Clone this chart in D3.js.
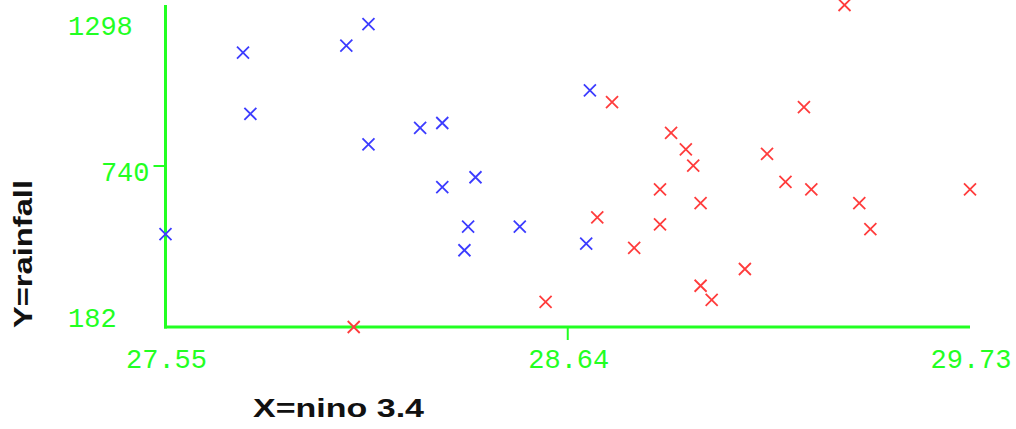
<!DOCTYPE html>
<html>
<head>
<meta charset="utf-8">
<script src="https://cdn.jsdelivr.net/npm/d3@7"></script>
<style>
  html, body { margin: 0; padding: 0; background: #ffffff; }
  svg { display: block; }
</style>
</head>
<body>
<div id="chart"></div>
<script>
// ---- data ----
const xTitle = "X=nino 3.4";
const yTitle = "Y=rainfall";
const xTickLabels = ["27.55", "28.64", "29.73"];
const yTickLabels = ["182", "740", "1298"];

const blueX = [27.76, 27.78, 28.04, 28.10, 28.10, 28.24, 28.30, 28.30, 28.39, 28.37, 28.36, 28.51, 27.55, 28.70, 28.69];
const blueY = [1133, 921, 1157, 1232, 815, 872, 889, 667, 701, 530, 448, 530, 504, 1002, 471];

const redX = [28.06, 29.39, 28.76, 29.28, 28.92, 28.96, 28.98, 29.18, 29.23, 29.30, 29.73, 28.89, 29.00, 29.43, 29.46, 28.72, 28.89, 28.82, 29.12, 29.00, 29.03, 28.58];
const redY = [182, 1298, 961, 944, 855, 798, 741, 782, 685, 659, 659, 659, 611, 611, 521, 562, 538, 456, 383, 325, 276, 269];

// ---- layout ----
const W = 1016, H = 429;
const green = "#22ff22";
const svg = d3.select("#chart").append("svg").attr("width", W).attr("height", H);

const xVals = xTickLabels.map(Number);
const yVals = yTickLabels.map(Number);
const x = d3.scaleLinear().domain(d3.extent(xVals)).range([165.5, 970]);
const y = d3.scaleLinear().domain(d3.extent(yVals)).range([327, 5]);
// label baseline placement scale (labels sit inside the axis extent)
const yLab = d3.scaleLinear().domain(d3.extent(yVals)).range([327, 35]);

// axis lines
svg.append("line").attr("x1", x.range()[0]).attr("x2", x.range()[0])
  .attr("y1", y.range()[1]).attr("y2", y.range()[0] + 1.5)
  .attr("stroke", green).attr("stroke-width", 3);
svg.append("line").attr("x1", x.range()[0] - 1.5).attr("x2", x.range()[1])
  .attr("y1", y.range()[0]).attr("y2", y.range()[0])
  .attr("stroke", green).attr("stroke-width", 3);

// middle ticks
const xMid = xVals[1], yMid = yVals[1];
svg.append("line").attr("x1", x(xMid)).attr("x2", x(xMid))
  .attr("y1", y.range()[0]).attr("y2", y.range()[0] + 13)
  .attr("stroke", green).attr("stroke-width", 2);
svg.append("line").attr("x1", x.range()[0] - 12).attr("x2", x.range()[0])
  .attr("y1", y(yMid)).attr("y2", y(yMid))
  .attr("stroke", green).attr("stroke-width", 2);

const monoFont = "'Liberation Mono', 'Courier New', monospace";

// x tick labels
svg.selectAll("text.xl").data(xVals).enter().append("text")
  .attr("class", "xl")
  .attr("x", d => x(d) + 1)
  .attr("y", 368)
  .attr("text-anchor", "middle")
  .attr("font-family", monoFont).attr("font-size", 27)
  .attr("fill", green)
  .text((d, i) => xTickLabels[i]);

// y tick labels
svg.selectAll("text.yl").data(yVals).enter().append("text")
  .attr("class", "yl")
  .attr("x", (d, i) => (i === 1 ? x.range()[0] - 16 : 68))
  .attr("y", d => yLab(d))
  .attr("text-anchor", (d, i) => (i === 1 ? "end" : "start"))
  .attr("font-family", monoFont).attr("font-size", 27)
  .attr("fill", green)
  .text((d, i) => yTickLabels[i]);

// axis titles
svg.append("text")
  .attr("x", 253).attr("y", 417)
  .attr("font-family", "'Liberation Sans', Arial, sans-serif")
  .attr("font-weight", "bold").attr("font-size", 26)
  .attr("textLength", 171).attr("lengthAdjust", "spacingAndGlyphs")
  .attr("fill", "#111")
  .text(xTitle);
svg.append("text")
  .attr("transform", "translate(32,328) rotate(-90)")
  .attr("x", 0).attr("y", 0)
  .attr("font-family", "'Liberation Sans', Arial, sans-serif")
  .attr("font-weight", "bold").attr("font-size", 26)
  .attr("textLength", 148).attr("lengthAdjust", "spacingAndGlyphs")
  .attr("fill", "#111")
  .text(yTitle);

// markers
const cross = "M-6,-6L6,6M-6,6L6,-6";
function drawSeries(xs, ys, color) {
  svg.append("g").selectAll("path").data(xs.map((v, i) => [v, ys[i]])).enter()
    .append("path")
    .attr("d", cross)
    .attr("transform", d => `translate(${x(d[0])},${y(d[1])})`)
    .attr("fill", "none")
    .attr("stroke", color)
    .attr("stroke-width", 1.8);
}
drawSeries(blueX, blueY, "#3c3cff");
drawSeries(redX, redY, "#ff3c3c");
</script>
</body>
</html>
